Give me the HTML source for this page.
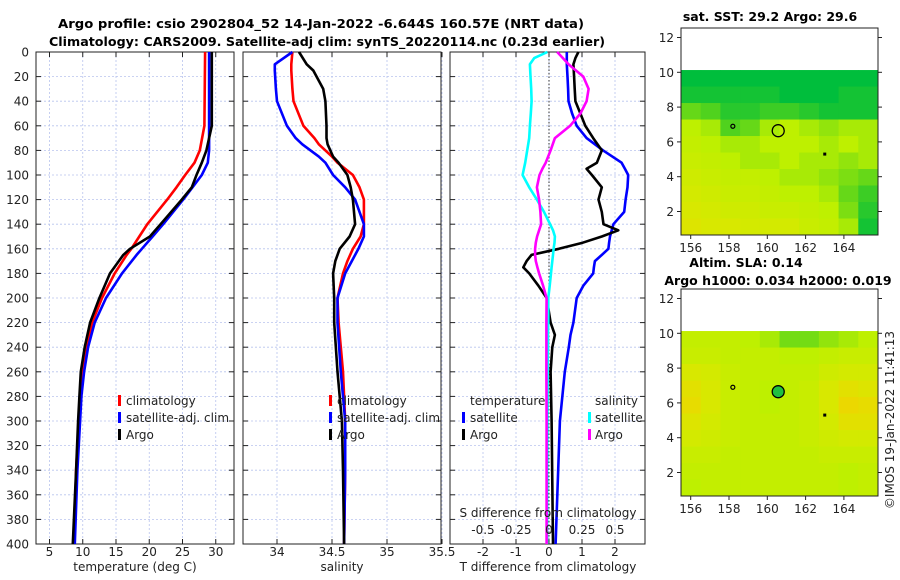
<!DOCTYPE html>
<html><head><meta charset="utf-8">
<style>
html,body{margin:0;padding:0;background:#fff;}
svg{display:block;font-family:"DejaVu Sans","Liberation Sans",sans-serif;}
</style></head>
<body>
<svg id="fig" width="900" height="580" viewBox="0 0 900 580">
<text x="321" y="28" text-anchor="middle" font-weight="bold" font-size="12.6" textLength="526" lengthAdjust="spacingAndGlyphs">Argo profile: csio 2902804_52 14-Jan-2022 -6.644S 160.57E (NRT data)</text>
<text x="327" y="46" text-anchor="middle" font-weight="bold" font-size="12.6" textLength="556" lengthAdjust="spacingAndGlyphs">Climatology: CARS2009. Satellite-adj clim: synTS_20220114.nc (0.23d earlier)</text>
<g id="p1"></g>
<g id="p2"></g>
<g id="p3"></g>
<g id="m1"></g>
<g id="m2"></g>
<text x="770" y="21" text-anchor="middle" font-weight="bold" font-size="12.5">sat. SST: 29.2 Argo: 29.6</text>
<text x="746" y="267" text-anchor="middle" font-weight="bold" font-size="12.5">Altim. SLA: 0.14</text>
<text x="778" y="285" text-anchor="middle" font-weight="bold" font-size="12.5">Argo h1000: 0.034 h2000: 0.019</text>
<text transform="translate(894,420) rotate(-90)" text-anchor="middle" font-size="12" fill="#222">©IMOS 19-Jan-2022 11:41:13</text>
</svg>
<script>
// ---- profile data ----
const depthTicks = [0,20,40,60,80,100,120,140,160,180,200,220,240,260,280,300,320,340,360,380,400];
const tDepth = [0,60,80,90,100,110,120,140,150,160,165,180,200,220,240,260,280,300,340,400];
const tClim  = [28.4,28.3,27.6,26.8,25.4,24.1,22.7,19.7,18.5,17.3,16.6,14.8,12.9,11.4,10.6,9.9,9.6,9.4,9.0,8.7];
const tSat   = [29.0,29.0,29.0,28.8,27.9,26.5,25.1,22.1,20.5,18.9,18.1,15.9,13.5,11.8,10.8,10.2,9.8,9.6,9.2,8.8];
const tArgo  = [29.4,29.4,28.6,27.9,27.1,26.4,24.9,21.7,20.1,17.1,16.1,14.1,12.5,11.1,10.3,9.7,9.5,9.3,9.0,8.5];
const sDepth = [0,10,15,30,40,60,70,75,85,90,100,110,120,140,150,160,170,180,200,220,260,300,340,400];
const sClim  = [34.14,34.13,34.13,34.14,34.15,34.24,34.34,34.38,34.5,34.55,34.69,34.75,34.79,34.79,34.76,34.69,34.64,34.60,34.55,34.56,34.60,34.62,34.62,34.61];
const sSat   = [34.14,33.98,33.98,33.99,34.0,34.09,34.17,34.23,34.38,34.44,34.51,34.62,34.71,34.79,34.79,34.74,34.68,34.62,34.55,34.55,34.58,34.62,34.62,34.61];
const sArgo  = [34.20,34.27,34.33,34.42,34.44,34.45,34.45,34.46,34.51,34.56,34.64,34.67,34.69,34.71,34.66,34.57,34.53,34.51,34.52,34.52,34.55,34.59,34.60,34.61];
const dDepth = [0,5,10,20,30,40,50,60,70,80,90,95,100,110,120,130,140,145,150,155,160,165,170,175,180,190,200,220,230,240,260,300,400];
const dTsat  = [0.54,0.54,0.54,0.56,0.58,0.59,0.7,0.84,1.14,1.64,2.2,2.3,2.4,2.38,2.32,2.28,1.95,1.9,1.85,1.82,1.8,1.6,1.39,1.36,1.34,1.04,0.84,0.74,0.65,0.6,0.48,0.33,0.2];
const dTargo = [0.89,0.8,0.74,0.76,0.78,0.8,0.95,1.1,1.34,1.6,1.45,1.14,1.3,1.6,1.5,1.6,1.65,2.1,1.6,1.02,0.3,-0.53,-0.68,-0.78,-0.6,-0.32,-0.07,0.05,0.18,0.1,0.05,0.08,0.12];
const dSsat  = [-0.012,-0.112,-0.145,-0.14,-0.135,-0.132,-0.138,-0.145,-0.15,-0.165,-0.18,-0.19,-0.2,-0.15,-0.092,-0.038,0.008,0.03,0.045,0.042,0.035,0.03,0.025,0.02,0.015,0.005,-0.005,-0.005,-0.008,-0.008,-0.01,-0.012,-0.015];
const dSargo = [0.062,0.105,0.148,0.26,0.3,0.285,0.238,0.16,0.045,0.012,-0.025,-0.05,-0.072,-0.092,-0.075,-0.065,-0.06,-0.075,-0.09,-0.1,-0.105,-0.105,-0.1,-0.088,-0.075,-0.045,-0.018,-0.02,-0.02,-0.02,-0.02,-0.018,-0.018];
const tTicks = [5,10,15,20,25,30];
const sTicks = [34,34.5,35,35.5];
const dTicks = [-2,-1,0,1,2];
const sdTicks = [-0.5,-0.25,0,0.25,0.5];
const sdTickLabels = ["-0.5","-0.25","0","0.25","0.5"];
// ---- map data (values 0=orange/yellow .. 1=green), rows from north (10N) to south ----
const sstGrid = [
[1,1,1,1,1,1,1,1,1,1],
[.95,.95,.95,.95,.95,1,1,1,.95,.95],
[.75,.8,.9,.9,.85,.85,.9,.95,.95,.95],
[.55,.6,.8,.75,.6,.55,.6,.65,.6,.6],
[.5,.55,.6,.6,.55,.55,.55,.6,.55,.6],
[.45,.5,.55,.6,.6,.55,.6,.6,.65,.6],
[.4,.45,.5,.5,.55,.6,.6,.65,.7,.75],
[.35,.4,.45,.45,.5,.55,.55,.6,.75,.85],
[.3,.35,.4,.4,.45,.45,.5,.55,.7,.9],
[.25,.3,.3,.35,.35,.35,.45,.5,.6,.95]];
const slaGrid = [
[.5,.5,.5,.55,.6,.72,.72,.65,.6,.55],
[.45,.45,.5,.5,.5,.55,.55,.5,.45,.45],
[.3,.35,.45,.5,.5,.5,.5,.4,.35,.35],
[.2,.3,.45,.5,.55,.5,.45,.3,.2,.25],
[.15,.3,.45,.5,.55,.5,.45,.3,.1,.15],
[.25,.35,.45,.5,.5,.5,.45,.35,.2,.2],
[.35,.4,.45,.5,.5,.5,.45,.4,.35,.35],
[.45,.45,.5,.5,.5,.5,.5,.45,.45,.45],
[.5,.5,.5,.5,.5,.5,.5,.5,.55,.5],
[.55,.5,.5,.5,.5,.5,.5,.5,.55,.5]];
const lonTicks = [156,158,160,162,164];
const latTicks = [2,4,6,8,10,12];
const argoLon = 160.57, argoLat = 6.644;

const NS="http://www.w3.org/2000/svg";
function mk(parent,tag,attrs){const e=document.createElementNS(NS,tag);for(const k in attrs)e.setAttribute(k,attrs[k]);parent.appendChild(e);return e;}
const Y0=52,Y1=544;
const yD=d=>Y0+(Y1-Y0)*d/400;

function panel(g,x0,x1,xs,ticks,labels,name){
  for(const d of depthTicks){
    const l=mk(g,'line',{x1:x0,x2:x1,y1:yD(d),y2:yD(d),stroke:'#b8c4ee','stroke-dasharray':'2,2','stroke-width':0.8});
    
    
    mk(g,'line',{x1:x0,x2:x0+5,y1:yD(d),y2:yD(d),stroke:'#222'});
    mk(g,'line',{x1:x1-5,x2:x1,y1:yD(d),y2:yD(d),stroke:'#222'});
  }
  ticks.forEach((t,i)=>{
    const x=xs(t);
    const l=mk(g,'line',{x1:x,x2:x,y1:Y0,y2:Y1,stroke:'#b8c4ee','stroke-dasharray':'2,2','stroke-width':0.8});
    
    
    mk(g,'line',{x1:x,x2:x,y1:Y1-5,y2:Y1,stroke:'#222'});
    mk(g,'line',{x1:x,x2:x,y1:Y0,y2:Y0+5,stroke:'#222'});
    const tx=mk(g,'text',{x:x,y:556,'text-anchor':'middle','font-size':12,fill:'#222'});
    tx.textContent=labels[i];
    
    
  });
  const r=mk(g,'rect',{x:x0,y:Y0,width:x1-x0,height:Y1-Y0,fill:'none',stroke:'#222','stroke-width':1});
  
  
}
function line(g,xs,depths,vals,color,name){
  const pts=depths.map((d,i)=>xs(vals[i]).toFixed(1)+','+yD(d).toFixed(1)).join(' ');
  const p=mk(g,'polyline',{points:pts,fill:'none',stroke:color,'stroke-width':2.6,'stroke-linejoin':'round'});
  
  
}
function txt(g,x,y,s,name,opts){
  const t=mk(g,'text',Object.assign({x:x,y:y,'font-size':12,fill:'#222'},opts||{}));
  t.textContent=s;
  
  
  return t;
}
function legMark(g,x,y,color){
  const m=mk(g,'rect',{x:x,y:y-10,width:3,height:11,fill:color});
  
  
}

const root=document.getElementById('fig');
for(const d of depthTicks){
  const t=mk(root,'text',{x:29,y:yD(d)+4.5,'text-anchor':'end','font-size':12,fill:'#222'});
  t.textContent=d;
  
  
}

// Panel 1 temperature
const g1=document.getElementById('p1');
const xT=t=>49.5+(t-5)*6.65;
panel(g1,36,234,xT,tTicks,tTicks.map(String),'temperature');
line(g1,xT,tDepth,tClim,'#f00','temp-climatology-line');
line(g1,xT,tDepth,tSat,'#00f','temp-satellite-line');
line(g1,xT,tDepth,tArgo,'#000','temp-argo-line');
legMark(g1,118,405,'#f00');txt(g1,126,405,'climatology','legend-climatology');
legMark(g1,118,422,'#00f');txt(g1,126,422,'satellite-adj. clim','legend-satellite');
legMark(g1,118,439,'#000');txt(g1,126,439,'Argo','legend-argo');
txt(g1,135,571,'temperature (deg C)','temperature-axis-title',{'text-anchor':'middle'});

// Panel 2 salinity
const g2=document.getElementById('p2');
const xS=s=>277+(s-34)*110;
panel(g2,243,441,xS,sTicks,sTicks.map(String),'salinity');
line(g2,xS,sDepth,sClim,'#f00','sal-climatology-line');
line(g2,xS,sDepth,sSat,'#00f','sal-satellite-line');
line(g2,xS,sDepth,sArgo,'#000','sal-argo-line');
legMark(g2,329,405,'#f00');txt(g2,337,405,'climatology','legend-climatology');
legMark(g2,329,422,'#00f');txt(g2,337,422,'satellite-adj. clim','legend-satellite');
legMark(g2,329,439,'#000');txt(g2,337,439,'Argo','legend-argo');
txt(g2,342,571,'salinity','salinity-axis-title',{'text-anchor':'middle'});

// Panel 3 differences
const g3=document.getElementById('p3');
const xDf=v=>549+v*33;
const xSd=v=>549+v*132;
panel(g3,450,645,xDf,dTicks,dTicks.map(String),'tdiff');
const z=mk(g3,'line',{x1:549,x2:549,y1:Y0,y2:Y1,stroke:'#333','stroke-dasharray':'1.5,2','stroke-width':1});


line(g3,xDf,dDepth,dTsat,'#00f','tdiff-satellite-line');
line(g3,xDf,dDepth,dTargo,'#000','tdiff-argo-line');
line(g3,xSd,dDepth,dSsat,'#0ff','sdiff-satellite-line');
line(g3,xSd,dDepth,dSargo,'#f0f','sdiff-argo-line');
txt(g3,470,405,'temperature','legend-temperature-heading');
legMark(g3,462,422,'#00f');txt(g3,470,422,'satellite','legend-t-satellite');
legMark(g3,462,439,'#000');txt(g3,470,439,'Argo','legend-t-argo');
txt(g3,595,405,'salinity','legend-salinity-heading');
legMark(g3,588,422,'#0ff');txt(g3,595,422,'satellite','legend-s-satellite');
legMark(g3,588,439,'#f0f');txt(g3,595,439,'Argo','legend-s-argo');
txt(g3,548,517,'S difference from climatology','sdiff-axis-title',{'text-anchor':'middle'});
sdTicks.forEach((v,i)=>{txt(g3,xSd(v),534,sdTickLabels[i],'sdiff-tick-label',{'text-anchor':'middle'});});
txt(g3,548,571,'T difference from climatology','tdiff-axis-title',{'text-anchor':'middle'});

// Maps
function cmap(v){
  const stops=[[0,[245,208,0]],[0.3,[216,232,0]],[0.55,[190,240,0]],[0.8,[80,210,30]],[1,[0,190,60]]];
  for(let i=1;i<stops.length;i++){if(v<=stops[i][0]){const a=stops[i-1],b=stops[i];const f=(v-a[0])/(b[0]-a[0]);return 'rgb('+a[1].map((c,j)=>Math.round(c+(b[1][j]-c)*f)).join(',')+')';}}
  return 'rgb(0,190,60)';
}
function drawMap(g,grid,oy,name,filled){
  const X0=681,X1=878;
  const xl=lon=>690.7+(lon-156)*19.15;
  const yl=lat=>oy+72.3-(lat-10)*17.4;
  const top=yl(10.13),bot=oy+235;
  const rows=grid.length,cols=grid[0].length;
  const cw=(X1-X0)/cols,rh=(bot-top)/rows;
  grid.forEach((row,r)=>row.forEach((v,c)=>{
    const cell=mk(g,'rect',{x:X0+c*cw,y:top+r*rh,width:cw+0.5,height:rh+0.5,fill:cmap(v)});
    
    
  }));
  const box=mk(g,'rect',{x:X0,y:oy+28,width:X1-X0,height:bot-oy-28,fill:'none',stroke:'#222'});
  
  
  lonTicks.forEach(t=>{
    mk(g,'line',{x1:xl(t),x2:xl(t),y1:bot,y2:bot+4,stroke:'#222'});
    txt(g,xl(t),bot+17,String(t),name+'-lon-tick',{'text-anchor':'middle'});
  });
  latTicks.forEach(t=>{
    mk(g,'line',{x1:X0-4,x2:X0,y1:yl(t),y2:yl(t),stroke:'#222'});
    mk(g,'line',{x1:X1,x2:X1+4,y1:yl(t),y2:yl(t),stroke:'#222'});
    txt(g,674,yl(t)+4.5,String(t),name+'-lat-tick',{'text-anchor':'end'});
  });
  const c=mk(g,'circle',{cx:xl(argoLon),cy:yl(argoLat),r:6,fill:filled?'#20c040':'none',stroke:'#000','stroke-width':1.3});
  
  
  mk(g,'circle',{cx:xl(158.2),cy:yl(6.9),r:2,fill:'none',stroke:'#000','stroke-width':1.2});
  mk(g,'rect',{x:xl(163)-1.5,y:yl(5.3)-1.5,width:3,height:3,fill:'#000'});
}
drawMap(document.getElementById('m1'),sstGrid,0,'sst-map',false);
drawMap(document.getElementById('m2'),slaGrid,261,'sla-map',true);
</script>
</body></html>
